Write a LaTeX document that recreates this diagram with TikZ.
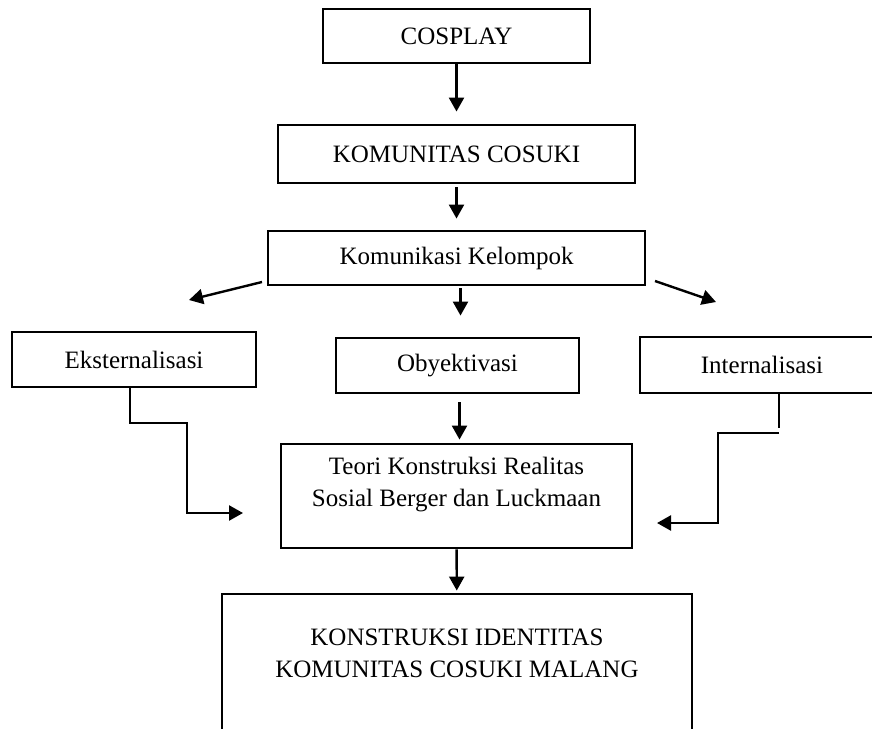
\documentclass[tikz,border=0pt]{standalone}
\usepackage{fontspec}
\setmainfont{Liberation Serif}
\usetikzlibrary{arrows.meta}
\begin{document}
\begin{tikzpicture}[x=1pt,y=-1pt,
  box/.style={draw=black,line width=2.9pt,rectangle,inner sep=0pt,align=center,
    font=\fontsize{25}{32}\selectfont},
  lbl/.style={inner sep=0pt,align=center,font=\fontsize{25}{32}\selectfont},
  arr/.style={line width=2.4pt,-{Triangle[length=14pt,width=15pt]}},
  ln/.style={line width=2.4pt}]
\clip (0,0) rectangle (872,728);
\fill[white] (0,0) rectangle (872,728);
% boxes
\node[box,minimum width=267pt,minimum height=54pt] (cosplay) at (456.5,36) {COSPLAY};
\node[box,minimum width=357pt,minimum height=58pt] (kom) at (456.5,154) {KOMUNITAS COSUKI};
\node[box,minimum width=377pt,minimum height=54pt] (komu) at (456.5,258) {Komunikasi Kelompok};
\node[box,minimum width=244pt,minimum height=55pt] (eks) at (134,359.5) {Eksternalisasi};
\node[box,minimum width=243pt,minimum height=55pt] (oby) at (457.5,365.5) {Obyektivasi};
\node[box,minimum width=244pt,minimum height=56pt] (int) at (762,365) {Internalisasi};
\node[box,minimum width=351pt,minimum height=104pt] (teori) at (456.5,496) {};
\node[lbl] (teoritxt) at (456.5,485) {Teori Konstruksi Realitas\\Sosial Berger dan Luckmaan};
\node[box,minimum width=470pt,minimum height=186pt] (konst) at (457,687) {};
\node[lbl] (konsttxt) at (457,653) {KONSTRUKSI IDENTITAS\\KOMUNITAS COSUKI MALANG};
% free ends
\coordinate (lfrom) at (262,282);
\coordinate (lto) at (189,300);
\coordinate (rfrom) at (655,281);
\coordinate (rto) at (716,302);
\coordinate (ebend) at (187,423);
\coordinate (etip) at (243,513);
\coordinate (iend) at (779,428);
\coordinate (istart) at (779,433);
\coordinate (ibend) at (718,523);
\coordinate (itip) at (657,523);
% connectors
\draw[arr,shorten >=12pt] (cosplay) -- (kom);
\draw[arr,shorten <=3pt,shorten >=11pt] (kom) -- (komu);
\draw[arr,shorten <=2pt,shorten >=21pt] (komu.south -| oby.north) ++(3,0) -- ([xshift=3pt]oby.north);
\draw[arr] (lfrom) -- (lto);
\draw[arr] (rfrom) -- (rto);
\draw[arr,shorten <=8pt,shorten >=3pt] ([xshift=2pt]oby.south) -- ([xshift=2pt]oby.south |- teori.north);
\draw[arr,shorten >=2pt] (teori) -- (konst);
\draw[arr] ([xshift=-4pt]eks.south) |- (ebend) |- (etip);
\draw[ln] (int.south -| iend) -- (iend);
\draw[arr] (istart) -| (ibend) -- (itip);
\end{tikzpicture}
\end{document}
